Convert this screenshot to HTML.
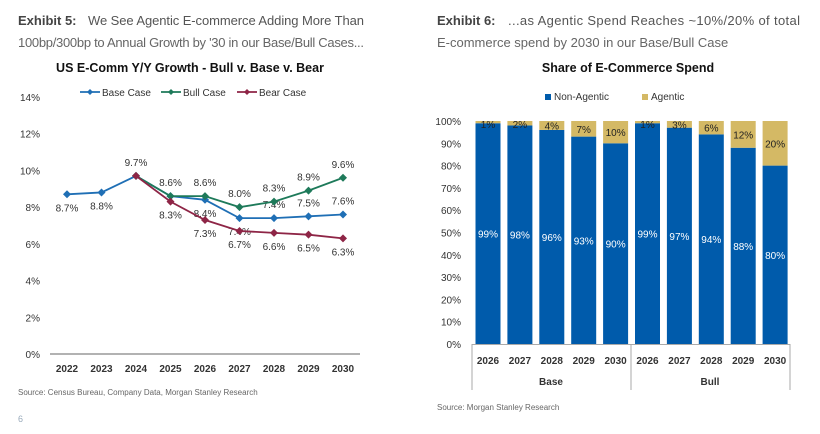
<!DOCTYPE html>
<html><head><meta charset="utf-8"><style>
body{margin:0;background:#fff;font-family:"Liberation Sans",Arial,sans-serif;}
svg{display:block}
text{font-family:"Liberation Sans",Arial,sans-serif}
</style></head><body>
<svg id="s" width="820" height="434">
<text x="18" y="25" font-size="13" fill="#555"><tspan font-weight="bold" fill="#444">Exhibit 5:</tspan><tspan x="88" textLength="276">We See Agentic E-commerce Adding More Than</tspan></text>
<text x="18" y="47" font-size="13" fill="#666" textLength="346">100bp/300bp to Annual Growth by '30 in our Base/Bull Cases...</text>
<text x="437" y="25" font-size="13" fill="#555"><tspan font-weight="bold" fill="#444">Exhibit 6:</tspan><tspan x="508" textLength="292">...as Agentic Spend Reaches ~10%/20% of total</tspan></text>
<text x="437" y="47" font-size="13" fill="#666">E-commerce spend by 2030 in our Base/Bull Case</text>
<text x="190" y="72" font-size="12.5" font-weight="bold" text-anchor="middle" fill="#111">US E-Comm Y/Y Growth - Bull v. Base v. Bear</text>
<text x="628" y="72" font-size="12.5" font-weight="bold" text-anchor="middle" fill="#111">Share of E-Commerce Spend</text>
<text x="18" y="395" font-size="8" fill="#666">Source: Census Bureau, Company Data, Morgan Stanley Research</text>
<text x="437" y="410" font-size="8" fill="#666">Source: Morgan Stanley Research</text>
<text x="18" y="422" font-size="9" fill="#9ab">6</text>
<g id="L"></g><g id="R"></g>
</svg>
<script>
const years=["2022","2023","2024","2025","2026","2027","2028","2029","2030"];
const baseVals=[8.7,8.8,9.7,8.6,8.4,7.4,7.4,7.5,7.6];
const bullVals=[null,null,9.7,8.6,8.6,8.0,8.3,8.9,9.6];
const bearVals=[null,null,9.7,8.3,7.3,6.7,6.6,6.5,6.3];
const yTicks=[0,2,4,6,8,10,12,14];
const barYears=["2026","2027","2028","2029","2030","2026","2027","2028","2029","2030"];
const agentic=[1,2,4,7,10,1,3,6,12,20];
const groups=["Base","Bull"];
const pctTicks=[0,10,20,30,40,50,60,70,80,90,100];
const NS="http://www.w3.org/2000/svg";
function mk(p,t,a,txt){const e=document.createElementNS(NS,t);for(const k in a)e.setAttribute(k,a[k]);if(txt!=null)e.textContent=txt;p.appendChild(e);return e;}
const L=document.getElementById('L');
const ly=v=>354-v*(354-97)/14, lx=i=>67+i*34.5;
yTicks.forEach(t=>{const e=mk(L,'text',{x:40,y:ly(t)+4,'font-size':10,'text-anchor':'end',fill:'#333'},t+'%');

});
const ax=mk(L,'line',{x1:50,x2:360,y1:354,y2:354,stroke:'#999','stroke-width':1.5});


years.forEach((y,i)=>{const e=mk(L,'text',{x:lx(i),y:372,'font-size':10,'font-weight':'bold','text-anchor':'middle',fill:'#333'},y);

});
const series=[["base",baseVals,"#1f6fb5"],["bull",bullVals,"#1e7a5a"],["bear",bearVals,"#8e2546"]];
const baseLab=[-1,-1,1,0,-1,-1,1,1,1], bullLab=[0,0,0,1,1,1,1,1,1], bearLab=[0,0,0,-1,-1,-1,-1,-1,-1];
const labs={base:baseLab,bull:bullLab,bear:bearLab};
series.forEach(([n,vals,c])=>{let d='';vals.forEach((v,i)=>{if(v==null)return;d+=(d?'L':'M')+lx(i)+','+ly(v);});
const p=mk(L,'path',{d:d,fill:'none',stroke:c,'stroke-width':1.8});


vals.forEach((v,i)=>{if(v==null)return;const x=lx(i),y=ly(v);
const m=mk(L,'path',{d:`M${x},${y-4}L${x+4},${y}L${x},${y+4}L${x-4},${y}Z`,fill:c});


const s=labs[n][i];if(!s)return;
const t=mk(L,'text',{x:x,y:s>0?y-10:y+17,'font-size':10,'text-anchor':'middle',fill:'#333'},v.toFixed(1)+'%');

});});
const leg=[["Base Case","#1f6fb5",80],["Bull Case","#1e7a5a",161],["Bear Case","#8e2546",237]];
leg.forEach(([t,c,x])=>{const g=mk(L,'g',{});


mk(g,'line',{x1:x,x2:x+20,y1:92,y2:92,stroke:c,'stroke-width':1.8});
mk(g,'path',{d:`M${x+10},89L${x+13},92L${x+10},95L${x+7},92Z`,fill:c});
mk(g,'text',{x:x+22,y:96,'font-size':10,fill:'#333'},t);});
const R=document.getElementById('R');
const ry=v=>344-v*(344-121)/100, rx=i=>488+i*31.9, bw=25;
pctTicks.forEach(t=>{const e=mk(R,'text',{x:461,y:ry(t)+4,'font-size':10,'text-anchor':'end',fill:'#333'},t+'%');

});
barYears.forEach((y,i)=>{const a=agentic[i],x=rx(i)-bw/2;
const b1=mk(R,'rect',{x:x,y:ry(100-a),width:bw,height:ry(0)-ry(100-a),fill:'#005bab'});


const b2=mk(R,'rect',{x:x,y:ry(100),width:bw,height:ry(100-a)-ry(100),fill:'#d4b965'});


const t1=mk(R,'text',{x:rx(i),y:ry((100-a)/2)+4,'font-size':10,'text-anchor':'middle',fill:'#fff'},(100-a)+'%');


const t2=mk(R,'text',{x:rx(i),y:Math.max(ry(100-a/2)+4,ry(100)+7),'font-size':10,'text-anchor':'middle',fill:'#222'},a+'%');


const ty=mk(R,'text',{x:rx(i),y:364,'font-size':10,'font-weight':'bold','text-anchor':'middle',fill:'#333'},y);

});
mk(R,'line',{x1:472,x2:790,y1:344.5,y2:344.5,stroke:'#aaa'});
[472,631,790].forEach(x=>mk(R,'line',{x1:x,x2:x,y1:344,y2:390,stroke:'#aaa'}));
groups.forEach((g,i)=>{const e=mk(R,'text',{x:i?710:551,y:385,'font-size':10,'font-weight':'bold','text-anchor':'middle',fill:'#333'},g);

});
[["Non-Agentic","#005bab",545],["Agentic","#d4b965",642]].forEach(([t,c,x])=>{const g=mk(R,'g',{});


mk(g,'rect',{x:x,y:94,width:6,height:6,fill:c});mk(g,'text',{x:x+9,y:100,'font-size':10,fill:'#333'},t);});
</script>
</body></html>
